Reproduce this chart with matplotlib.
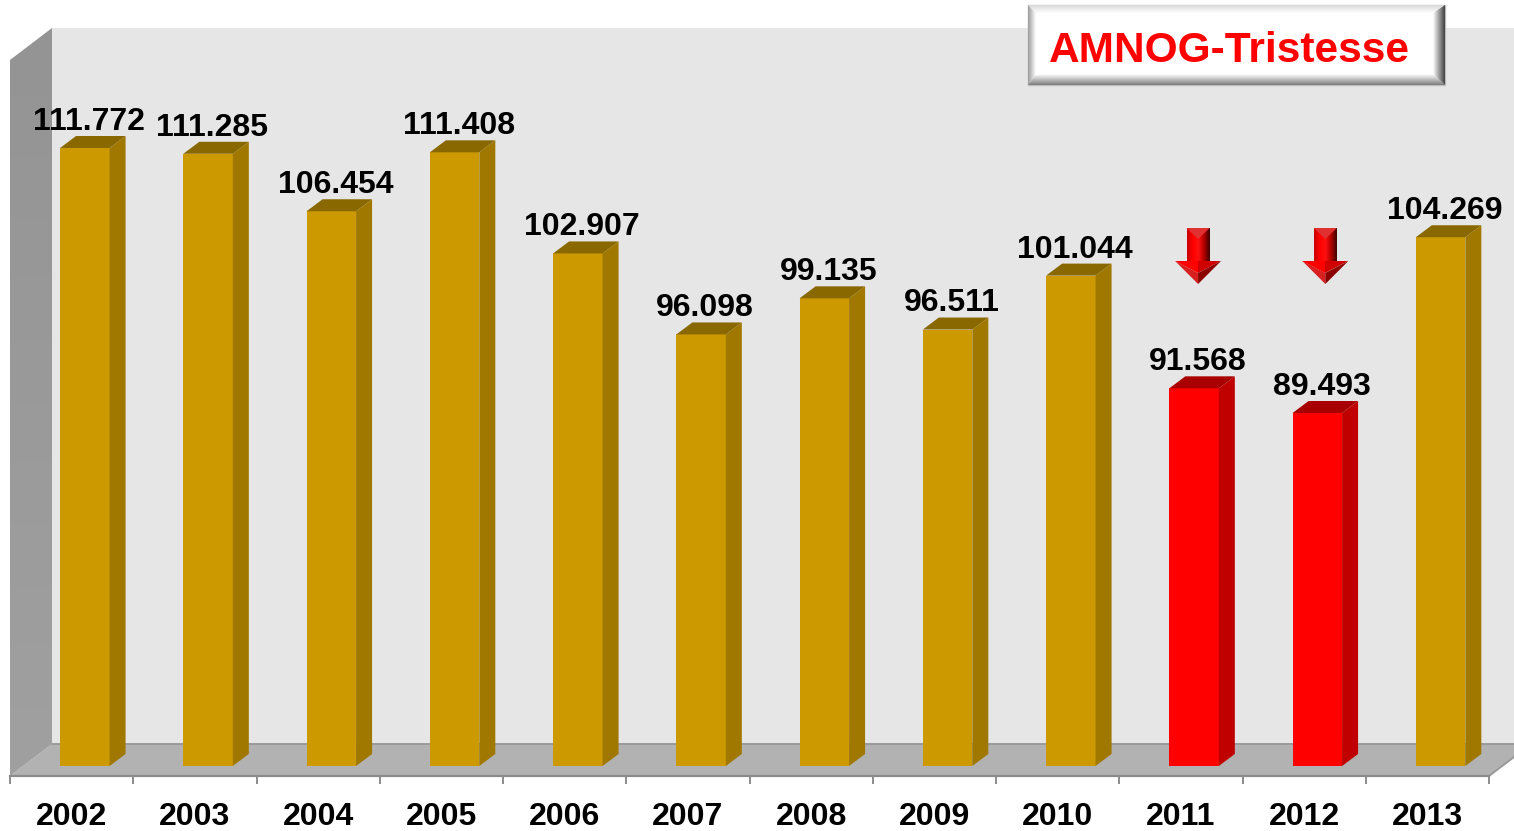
import matplotlib
matplotlib.use("Agg")
import matplotlib.pyplot as plt
import numpy as np
from matplotlib.colors import LinearSegmentedColormap
from matplotlib.patches import Polygon

years = ["2002", "2003", "2004", "2005", "2006", "2007", "2008", "2009", "2010", "2011", "2012", "2013"]
values = [111772, 111285, 106454, 111408, 102907, 96098, 99135, 96511, 101044, 91568, 89493, 104269]
labels = ["111.772", "111.285", "106.454", "111.408", "102.907", "96.098", "99.135", "96.511", "101.044", "91.568", "89.493", "104.269"]
red_years = ["2011", "2012"]
title = "AMNOG-Tristesse"

W, H = 1514, 831
AX_L, AX_R, AX_B = 10, 1489, 776   # front edge of the floor, in pixels
PX_PER_UNIT = 0.011895
BASE = 59817                       # value at the foot of the bars
GOLD = ("#cc9900", "#a07800", "#8a6800")
RED = ("#ff0000", "#c00000", "#a80000")

plt.rcParams["font.family"] = ["Liberation Sans", "DejaVu Sans"]
plt.rcParams["font.weight"] = "bold"


def gradient_poly(ax, pts, colors, vertical=False):
    # fill a polygon with a linear gradient, clipped from an image
    pts = np.array(pts, dtype=float)
    x0, x1 = pts[:, 0].min(), pts[:, 0].max()
    y0, y1 = pts[:, 1].min(), pts[:, 1].max()
    g = np.linspace(0, 1, 64)
    g = g[:, None] if vertical else g[None, :]
    cmap = LinearSegmentedColormap.from_list("g", colors)
    im = ax.imshow(g, cmap=cmap, extent=(x0, x1, y1, y0), origin="upper",
                   aspect="auto", interpolation="bilinear", vmin=0, vmax=1, zorder=3)
    clip = Polygon(pts, closed=True, transform=ax.transData)
    im.set_clip_path(clip)


def draw_arrow(ax, cx, top):
    # shaft
    gradient_poly(ax, [(cx - 11.5, top), (cx + 11.5, top), (cx + 11.5, top + 34), (cx - 11.5, top + 34)],
                  ["#c80000", "#ff0000", "#ff1010", "#b00000", "#400000"])
    ax.add_patch(Polygon([(cx - 11.5, top), (cx + 11.5, top), (cx, top + 11)], fc="#e03030", ec="none", zorder=4))
    # head
    ax.add_patch(Polygon([(cx - 23, top + 33), (cx, top + 33), (cx, top + 45)], fc="#ff0000", ec="none", zorder=4))
    ax.add_patch(Polygon([(cx + 23, top + 33), (cx, top + 33), (cx, top + 45)], fc="#d00000", ec="none", zorder=4))
    ax.add_patch(Polygon([(cx - 23, top + 33), (cx, top + 56), (cx, top + 45)], fc="#d82020", ec="none", zorder=4))
    ax.add_patch(Polygon([(cx + 23, top + 33), (cx, top + 56), (cx, top + 45)], fc="#8c0000", ec="none", zorder=4))


fig = plt.figure(figsize=(W / 100, H / 100), dpi=100)
fig.patch.set_facecolor("white")

# pixel layer for walls, floor, button and arrows
bg = fig.add_axes([0, 0, 1, 1], zorder=0)
bg.set_axis_off()
bg.add_patch(Polygon([(52, 28), (W, 28), (W, 744), (52, 744)], fc="#e6e6e6", ec="none"))
gradient_poly(bg, [(10, 60), (52, 28), (52, 744), (10, 776)], ["#949494", "#a0a0a0"], vertical=True)
bg.add_patch(Polygon([(10, 776), (52, 744), (W, 744), (W, 757), (AX_R, 776)], fc="#b2b2b2", ec="none", zorder=2))
bg.plot([52, W], [744, 744], color="#9a9a9a", lw=1.4, zorder=2.5)
bg.plot([AX_R, W], [776, 757], color="#9a9a9a", lw=1.4, zorder=2.5)

# button
bx0, bx1, by0, by1 = 1028, 1445, 5, 85
ix0, ix1, iy0, iy1 = 1036, 1433, 13, 74
bg.add_patch(Polygon([(bx0, by0), (bx1, by0), (bx1, by1), (bx0, by1)], fc="white", ec="#bdbdbd", lw=1, zorder=2.8))
gradient_poly(bg, [(bx0, by0), (bx1, by0), (ix1, iy0), (ix0, iy0)], ["#d8d8d8", "#ffffff"], vertical=True)
gradient_poly(bg, [(bx0, by0), (ix0, iy0), (ix0, iy1), (bx0, by1)], ["#9c9c9c", "#ffffff"])
gradient_poly(bg, [(bx0, by1), (ix0, iy1), (ix1, iy1), (bx1, by1)], ["#ffffff", "#7c7c7c"], vertical=True)
gradient_poly(bg, [(bx1, by0), (bx1, by1), (ix1, iy1), (ix1, iy0)], ["#ffffff", "#404040"])
bg.text(1049, 62, title, color="#ff0000", fontsize=30.5, fontweight="bold", va="baseline", ha="left", zorder=5)

bg.set_xlim(0, W)
bg.set_ylim(H, 0)

# data layer, its bottom spine is the front edge of the floor
ax = fig.add_axes([AX_L / W, 1 - AX_B / H, (AX_R - AX_L) / W, AX_B / H], zorder=1)
ax.patch.set_alpha(0)
cat_px = (AX_R - AX_L) / len(years)
ax.set_xlim(-0.5, len(years) - 0.5)
y_bottom = BASE - (AX_B - 766) / PX_PER_UNIT
y_top = y_bottom + AX_B / PX_PER_UNIT
ax.set_ylim(y_bottom, y_top)

bar_w = 49.5 / cat_px
bar_off = 13.2 / cat_px
dep_x = 16 / cat_px
dep_y = 12 / PX_PER_UNIT

x = np.arange(len(years))
for i, (yr, v, lab) in enumerate(zip(years, values, labels)):
    front, side, top = RED if yr in red_years else GOLD
    l = i + bar_off - bar_w / 2
    r = i + bar_off + bar_w / 2
    ax.bar(i + bar_off, v - BASE, bar_w, bottom=BASE, color=front, zorder=3)
    ax.add_patch(Polygon([(r, BASE), (r + dep_x, BASE + dep_y), (r + dep_x, v + dep_y), (r, v)],
                         fc=side, ec="none", zorder=3))
    ax.add_patch(Polygon([(l, v), (r, v), (r + dep_x, v + dep_y), (l + dep_x, v + dep_y)],
                         fc=top, ec="none", zorder=3))
    ax.annotate(lab, (i + bar_off, v), xytext=(3, 13), textcoords="offset points",
                ha="center", va="baseline", fontsize=23, fontweight="bold", color="black", zorder=5)
    if yr in red_years:
        cx = AX_L + cat_px * (i + 0.5) + bar_off * cat_px + 4
        draw_arrow(bg, cx + (yr == "2012") * 4, 228)

bg.set_xlim(0, W)
bg.set_ylim(H, 0)

for s in ["top", "left", "right"]:
    ax.spines[s].set_visible(False)
ax.spines["bottom"].set_color("#8c8c8c")
ax.spines["bottom"].set_linewidth(1.6)
ax.set_yticks([])
ax.set_xticks(np.arange(len(years) + 1) - 0.5)
ax.set_xticklabels([])
ax.tick_params(axis="x", which="major", length=6, width=1.4, color="#8c8c8c")
ax.set_xticks(x, minor=True)
ax.set_xticklabels(years, minor=True, fontsize=23, fontweight="bold", color="black")
ax.tick_params(axis="x", which="minor", length=0, pad=18.5)

fig.savefig("out.png", dpi=100, facecolor="white")
